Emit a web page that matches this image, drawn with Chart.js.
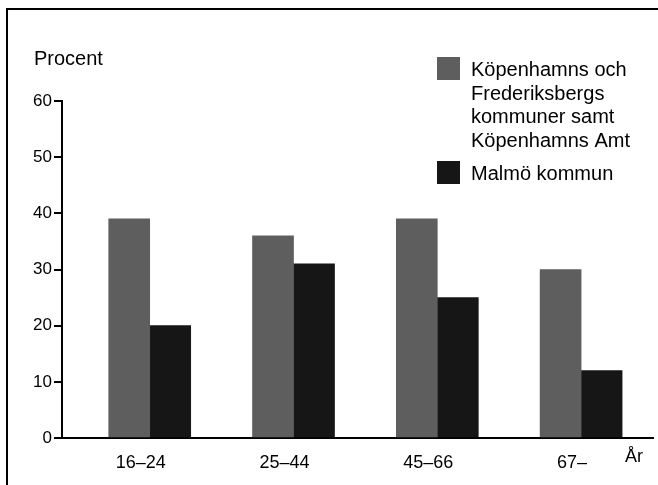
<!DOCTYPE html>
<html>
<head>
<meta charset="utf-8">
<script src="https://cdn.jsdelivr.net/npm/chart.js@4/dist/chart.umd.min.js"></script>
<style>
  html, body { margin: 0; padding: 0; background: #fff; }
  canvas { display: block; }
</style>
</head>
<body>
<canvas id="ageChart" width="658" height="485"></canvas>
<script>
// data
var categories = ['16\u201324', '25\u201344', '45\u201366', '67\u2013'];
var kobenhavn = [39, 36, 39, 30];
var malmo = [20, 31, 25, 12];
var seriesNames = [
    ['K\u00f6penhamns och', 'Frederiksbergs', 'kommuner samt', 'K\u00f6penhamns Amt'],
    ['Malm\u00f6 kommun']
];
var yTicks = [0, 10, 20, 30, 40, 50, 60];
var yTitle = 'Procent';
var xTitle = '\u00c5r';

var colors = ['#5e5e5e', '#161616'];
var font = 'Liberation Sans, Arial, Helvetica, sans-serif';

function toPoints(values) {
    return values.map(function (v, i) { return { x: i, y: v }; });
}

// frame, axis titles and the legend box
var decorations = {
    id: 'decorations',
    afterDraw: function (chart) {
        var c = chart.ctx;
        c.save();
        c.strokeStyle = '#000';
        c.lineWidth = 2;
        c.beginPath();
        c.moveTo(7, 485);
        c.lineTo(7, 9);
        c.lineTo(658, 9);
        c.stroke();

        c.fillStyle = '#000';
        c.textBaseline = 'alphabetic';
        c.font = '20px ' + font;
        c.fillText(yTitle, 34, 65);
        c.font = '18px ' + font;
        c.fillText(xTitle, 625, 462);

        // legend
        c.font = '20px ' + font;
        var y = 57;
        seriesNames.forEach(function (lines, i) {
            c.fillStyle = colors[i];
            c.fillRect(437, y, 23, 23);
            c.fillStyle = '#000';
            lines.forEach(function (line, j) {
                c.fillText(line, 471, y + 19 + j * 23.5);
            });
            y += 104;
        });
        c.restore();
    }
};

var ctx = document.getElementById('ageChart').getContext('2d');
var chart = new Chart(ctx, {
    type: 'bar',
    data: {
        datasets: [{
            label: seriesNames[0].join(' '),
            data: toPoints(kobenhavn),
            backgroundColor: colors[0]
        }, {
            label: seriesNames[1].join(' '),
            data: toPoints(malmo),
            backgroundColor: colors[1]
        }]
    },
    options: {
        responsive: false,
        animation: false,
        barThickness: 41,
        layout: {
            padding: { top: 101, right: 5, left: 0, bottom: 0 }
        },
        plugins: {
            legend: { display: false },
            tooltip: { enabled: false }
        },
        scales: {
            x: {
                type: 'linear',
                offset: false,
                min: -0.61,
                max: 3.5,
                afterBuildTicks: function (scale) {
                    scale.ticks = categories.map(function (c, i) { return { value: i }; });
                },
                afterFit: function (scale) { scale.height = 47; },
                grid: { display: false, offset: false },
                border: { color: '#000', width: 2 },
                ticks: {
                    color: '#000',
                    font: { family: font, size: 18 },
                    padding: 6,
                    labelOffset: -9,
                    maxRotation: 0,
                    callback: function (value) { return categories[value]; }
                }
            },
            y: {
                min: 0,
                max: 60,
                afterBuildTicks: function (scale) {
                    scale.ticks = yTicks.map(function (v) { return { value: v }; });
                },
                afterFit: function (scale) { scale.width = 62; },
                grid: {
                    drawOnChartArea: false,
                    drawTicks: true,
                    tickLength: 8,
                    color: '#000',
                    lineWidth: 2
                },
                border: { color: '#000', width: 2 },
                ticks: {
                    color: '#000',
                    font: { family: font, size: 17 },
                    padding: 2
                }
            }
        }
    },
    plugins: [decorations]
});
</script>
</body>
</html>
